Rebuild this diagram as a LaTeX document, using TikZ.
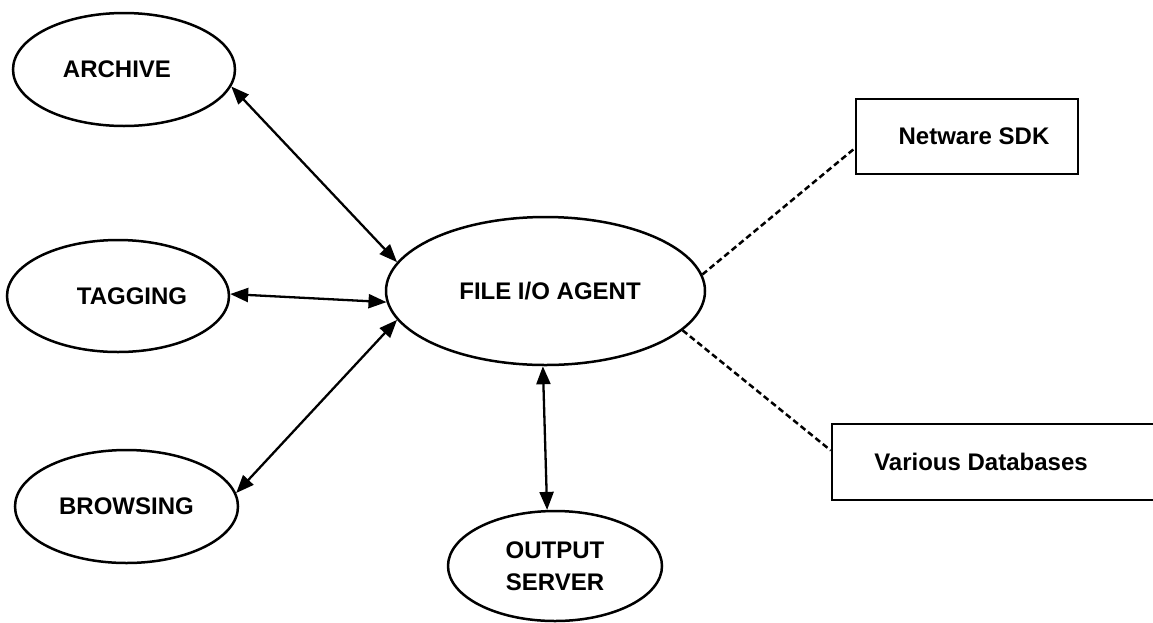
\documentclass[tikz,border=0pt]{standalone}
\usepackage{fontspec}
\setmainfont{Liberation Sans}
\usetikzlibrary{shapes.geometric,arrows.meta}
\begin{document}
\begin{tikzpicture}[x=1pt,y=-1pt,
  every node/.style={font=\bfseries\fontsize{24}{32}\selectfont},
  oval/.style={ellipse,draw,line width=2.5pt,inner sep=0pt},
  boxnode/.style={rectangle,draw,line width=2.5pt,inner sep=0pt},
  link/.style={line width=2.3pt,{Triangle[length=18pt,width=14pt]}-{Triangle[length=18pt,width=14pt]}},
  dlink/.style={line width=2.5pt,dash pattern=on 6pt off 3.5pt}]
\useasboundingbox (0,0) rectangle (1153,622);
\node[oval,minimum width=222pt,minimum height=113pt] (archive) at (124,69.5) {ARCHIVE\hspace*{14pt}};
\node[oval,minimum width=222pt,minimum height=112pt] (tagging) at (118,296) {\hspace*{28pt}TAGGING};
\node[oval,minimum width=223pt,minimum height=113pt] (browsing) at (126.5,506.5) {BROWSING};
\node[oval,minimum width=319pt,minimum height=148pt] (agent) at (545.5,291) {\hspace*{9pt}FILE I/O AGENT};
\node[oval,minimum width=214pt,minimum height=110pt,align=center] (output) at (555,566) {OUTPUT\\SERVER};
\node[boxnode,minimum width=222pt,minimum height=75pt] (net) at (967,136.5) {\hspace*{14pt}Netware SDK};
\node[boxnode,minimum width=328pt,minimum height=76pt] (various) at (996,462) {Various Databases\hspace*{30pt}};
\draw[link] (archive.-9.2) -- (agent.169.4);
\draw[link] (tagging.1.5) -- (agent.184.4);
\draw[link] (browsing.7.2) -- (agent.191.8);
\draw[link] (agent.268) -- (output.98);
\draw[dlink] (agent.6.8) -- (net.186.9);
\draw[dlink] (agent.-16.2) -- (various.176.5);
\end{tikzpicture}
\end{document}
